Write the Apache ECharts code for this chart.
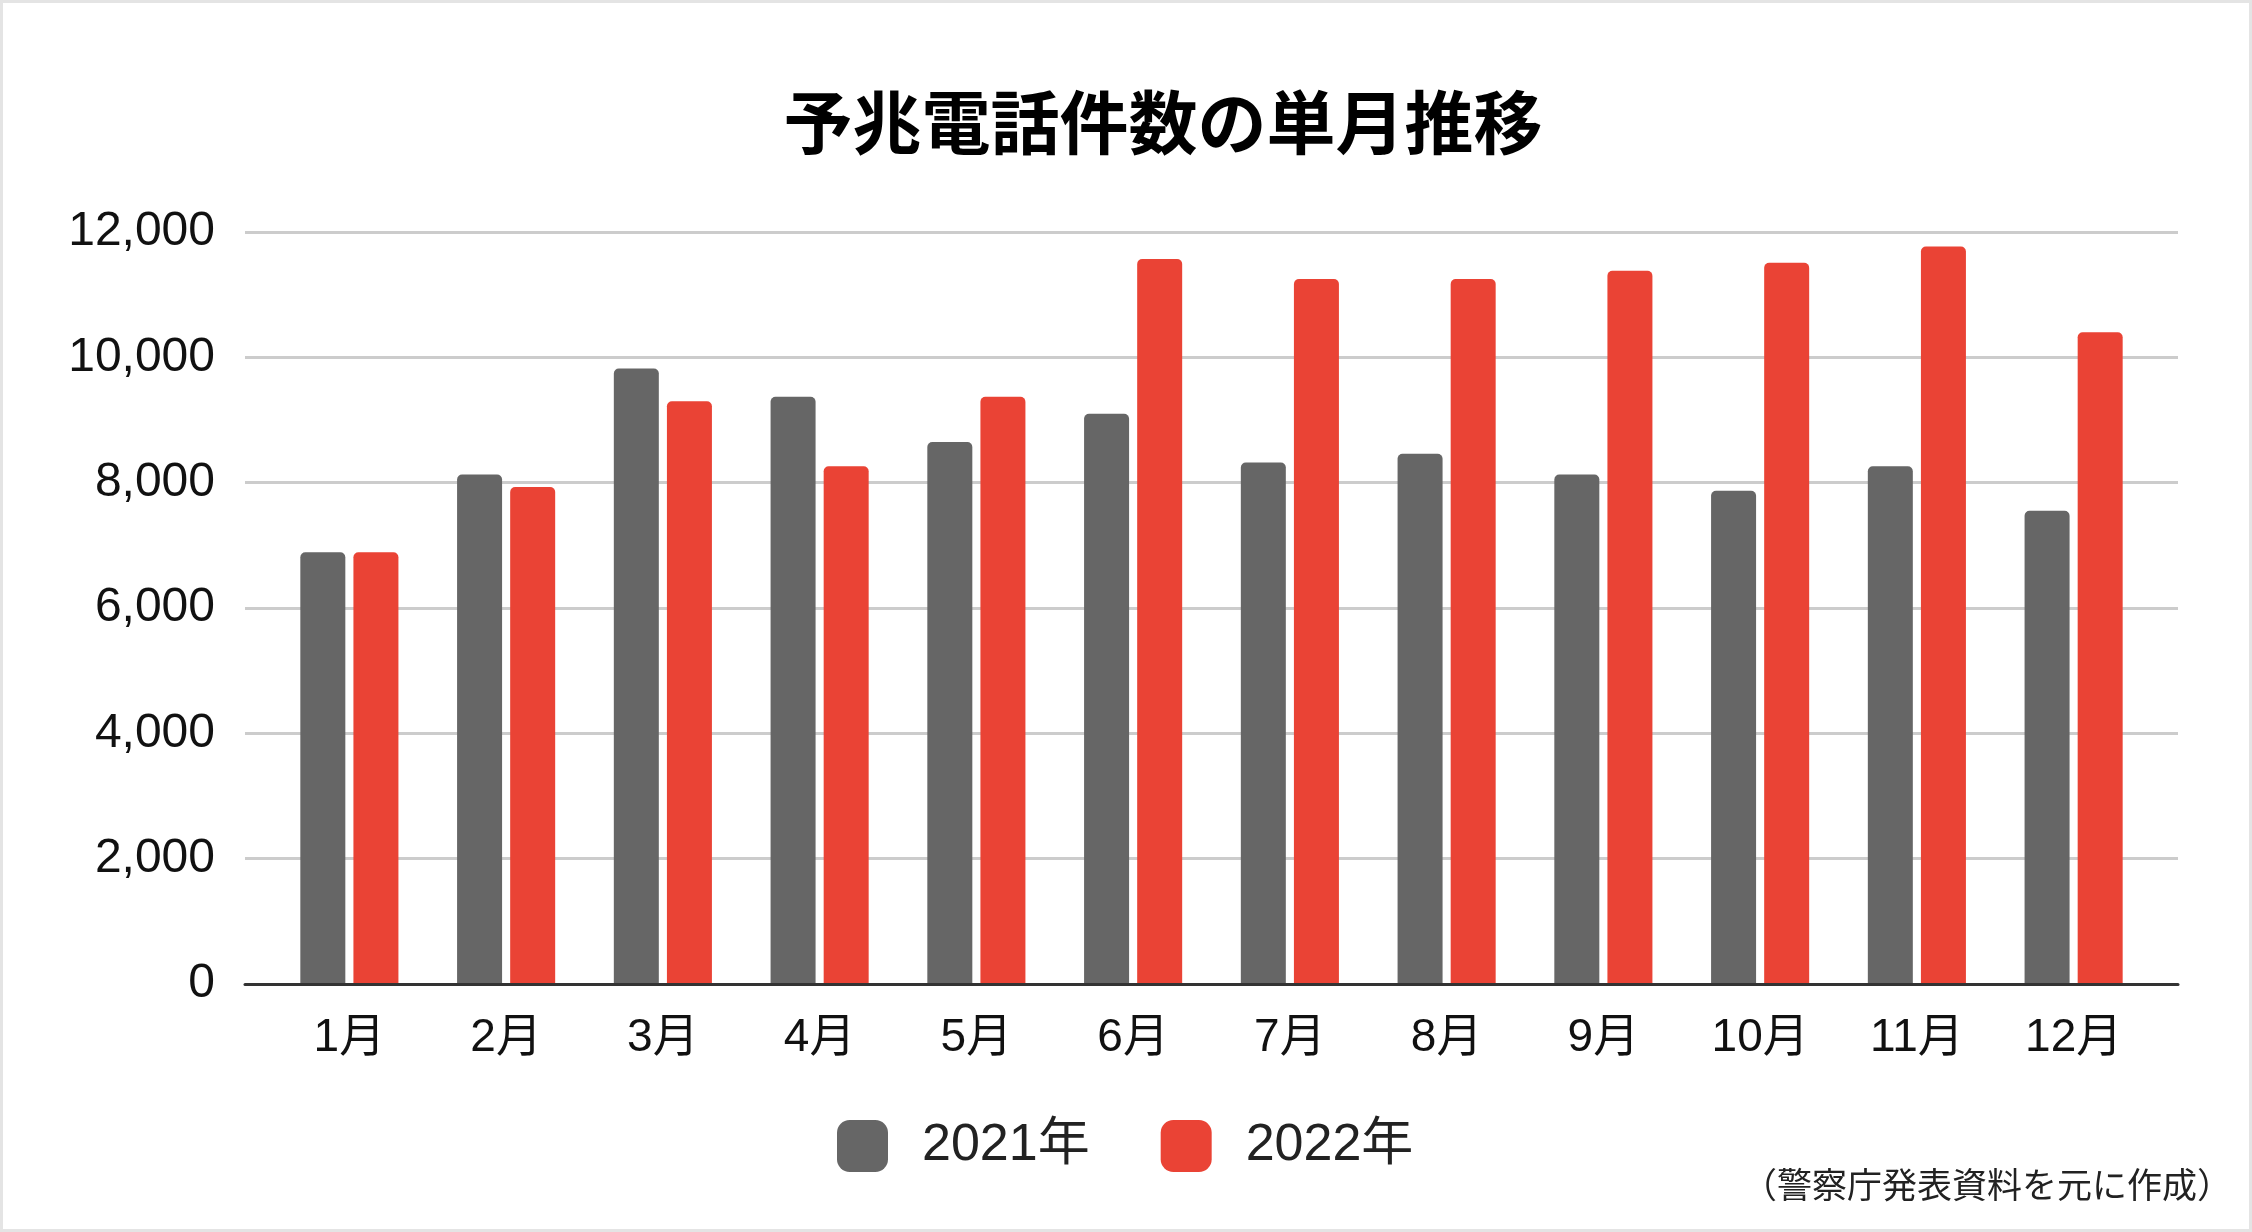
<!DOCTYPE html>
<html>
<head>
<meta charset="utf-8">
<style>
html,body{margin:0;padding:0;background:#fff;}
#chart{width:2252px;height:1232px;}
</style>
<script src="https://cdn.jsdelivr.net/npm/echarts@6/dist/echarts.min.js"></script>
</head>
<body>
<div id="chart"></div>
<script>
const months = ['1月','2月','3月','4月','5月','6月','7月','8月','9月','10月','11月','12月'];
const seriesNames = ['2021年','2022年'];
const values2021 = [6890, 8130, 9820, 9370, 8650, 9100, 8320, 8460, 8130, 7870, 8260, 7550];
const values2022 = [6890, 7930, 9300, 8260, 9370, 11570, 11250, 11250, 11380, 11510, 11770, 10400];
const yTicks = [0, 2000, 4000, 6000, 8000, 10000, 12000];
const titleText = '予兆電話件数の単月推移';
const sourceText = '（警察庁発表資料を元に作成）';

const font = '"Liberation Sans", Arial, "Noto Sans CJK JP", sans-serif';
const chart = echarts.init(document.getElementById('chart'), null, {renderer:'canvas'});
const yMin = yTicks[0], yMax = yTicks[yTicks.length-1], yStep = yTicks[1]-yTicks[0];

chart.setOption({
  animation:false,
  backgroundColor:'#ffffff',
  title:{
    text:titleText,
    left:1158, top:118, textAlign:'center', textVerticalAlign:'middle',
    textStyle:{fontSize:69, fontWeight:'bold', color:'#000', fontFamily:'"Noto Sans CJK JP", sans-serif'}
  },
  legend:{
    data:seriesNames,
    left:832, top:1115,
    itemWidth:51, itemHeight:52, itemGap:71,
    icon:'roundRect',
    textStyle:{fontSize:52, color:'#222', fontFamily:font, padding:[0,0,0,29]}
  },
  grid:[
    {left:245, right:74, top:232, bottom:248},
    {left:271, right:100, top:232, bottom:248}
  ],
  xAxis:[
    {type:'category', gridIndex:0, data:months, z:10,
     axisLine:{show:true, lineStyle:{color:'#333333', width:3}},
     axisTick:{show:false}, axisLabel:{show:false}, splitLine:{show:false}},
    {type:'category', gridIndex:1, data:months,
     axisLine:{show:false}, axisTick:{show:false},
     axisLabel:{fontSize:46, color:'#111', fontFamily:font, margin:31}}
  ],
  yAxis:[
    {type:'value', gridIndex:0, min:yMin, max:yMax, interval:yStep,
     axisLine:{show:false}, axisTick:{show:false},
     axisLabel:{fontSize:48, color:'#111', fontFamily:font, margin:30,
       formatter:v=>v.toLocaleString('en-US')},
     splitLine:{show:true, lineStyle:{color:'#cccccc', width:3}}},
    {type:'value', gridIndex:1, min:yMin, max:yMax, interval:yStep,
     show:false, splitLine:{show:false}}
  ],
  series:[
    {name:seriesNames[0], type:'bar', xAxisIndex:1, yAxisIndex:1, data:values2021,
     barWidth:45, barGap:'18%', itemStyle:{color:'#666666', borderRadius:[5,5,0,0]}},
    {name:seriesNames[1], type:'bar', xAxisIndex:1, yAxisIndex:1, data:values2022,
     barWidth:45, barGap:'18%', itemStyle:{color:'#EA4335', borderRadius:[5,5,0,0]}}
  ],
  graphic:[
    {type:'rect', shape:{x:1.5, y:1.5, width:2249, height:1229}, silent:true,
     style:{fill:'none', stroke:'#e4e4e4', lineWidth:3}, z:-1},
    {type:'text', right:20, top:1167,
     style:{text:sourceText, fontSize:35, fill:'#222', fontFamily:'"Noto Sans CJK JP", sans-serif'}}
  ]
});
</script>
</body>
</html>
